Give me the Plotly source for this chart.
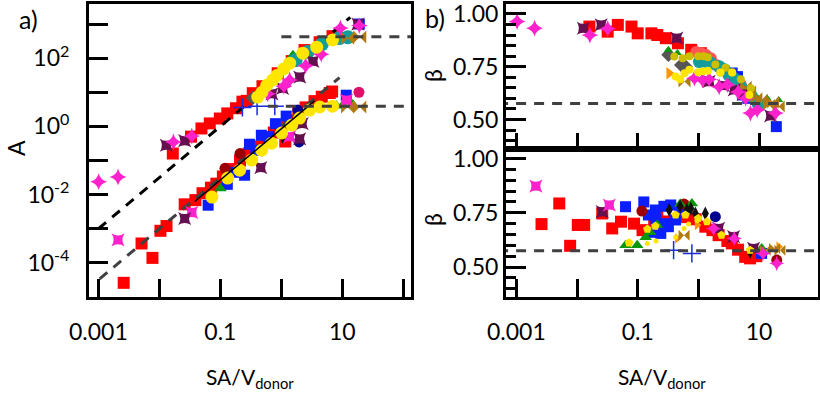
import numpy as np
import plotly.graph_objects as go

# ---------------- panel a: A vs SA/V_donor (log-log) ----------------
red_sa_a = [0.0026, 0.0051, 0.0077, 0.0104, 0.0131, 0.026, 0.039, 0.051, 0.070, 0.086,
            0.11, 0.15, 0.21, 0.29, 0.40, 0.55, 0.75, 1.0, 1.16, 1.4, 1.9, 2.5, 3.5, 4.6, 6.2, 6.8,
            0.0166, 0.033, 0.049, 0.067, 0.098, 0.13, 0.18, 0.23, 0.27, 0.34, 0.49, 0.87, 1.48,
            2.4, 4.25, 6.9]
red_A = [2.6e-5, 3.7e-4, 1.4e-4, 8.7e-4, 1.2e-3, 5.2e-3, 6.9e-3, 0.011, 0.016, 0.021,
         0.034, 0.056, 0.10, 0.16, 0.26, 0.45, 0.66, 0.95, 0.36, 1.5, 2.4, 3.6, 5.5, 7.4, 9.5, 10.5,
         0.16, 0.50, 0.87, 1.22, 1.7, 2.4, 3.4, 5.3, 5.6, 9.4, 15, 36, 82,
         172, 293, 440]

blue_sa_a = [0.063, 0.13, 0.18, 0.25, 0.30, 0.38, 0.47, 0.62, 0.8, 1.2, 11.6, 19]
blue_A = [4.9e-3, 0.02, 0.045, 0.037, 0.3, 0.2, 0.55, 0.5, 1.2, 2.0, 8.2, 1000]

cross_sa_a = [0.23, 0.40, 0.78]
cross_A = [3.6, 3.9, 3.9]

darkred_sa_a = [0.119, 0.21]
darkred_A = [0.059, 0.16]

pink_sa_a = [18.7]
pink_A = [10]

navy_sa_a = [1.95, 1.86]
navy_A = [0.35, 3.0]

black_sa_a = [0.34, 1.05]
black_A = [0.115, 0.5]

gray_sa_a = [0.34]
gray_A = [6.8]

green_sa_a = [0.10, 8.0, 10.2, 14.8, 1.55]
green_A = [0.015, 4.0, 4.2, 4.4, 122]

teal_sa_a = [1.72, 2.7, 4.6, 9.0, 12.3]
teal_A = [88, 150, 256, 390, 410]

magenta_sa_a = [0.00101, 0.0021, 0.017, 0.034, 0.6, 1.1, 1.37, 2.5, 4.5, 9.3, 19]
magenta_A = [0.024, 0.033, 0.35, 0.52, 9, 15, 23, 60, 130, 760, 900]

magx_sa_a = [0.0021, 0.034, 1.37, 11.7]
magx_A = [4.7e-4, 3.0e-3, 0.5, 5.9]

purple_sa_a = [0.013, 0.026, 0.026, 0.46, 2.0, 2.2, 0.7, 1.05, 2.0, 3.3, 18]
purple_A = [0.28, 0.38, 2.0e-3, 0.062, 0.43, 1.2, 9, 13, 28, 80, 1000]

brown_sa_a = [12.2, 19.3, 12.2, 19.3]
brown_A = [385, 415, 3.7, 3.7]

yellow_sa_a = [0.0726, 0.132, 0.207, 0.326, 0.475, 0.69, 1.01, 1.48, 2.0, 2.9, 4.25, 6.9,
               0.41, 0.48, 0.575, 0.72, 0.84, 1.09, 1.37, 2.24, 3.8, 6.9]
yellow_A = [8.5e-3, 0.0305, 0.052, 0.103, 0.20, 0.32, 0.64, 1.09, 1.75, 3.0, 3.7, 3.9,
            7.2, 10, 16, 23, 31, 48, 71, 140, 210, 340]

# scaling lines A = k * (SA/V)^1.5 and plateaus
slope = 1.5
upper_fit_sa = [0.001, 13.5]
upper_fit_k = 31.6
lower_fit_sa = [0.00105, 9.0]
lower_fit_k = 1.0
solid_fit_sa = [0.038, 3.5]
solid_fit_k = 0.85
plateau_up_sa = [1.0, 140]
plateau_up_A = 420
plateau_lo_sa = [0.6, 140]
plateau_lo_A = 3.9

# ---------------- panel b (top): beta vs SA/V_donor ----------------
red_sa_bt = [0.016, 0.032, 0.047, 0.079, 0.10, 0.168, 0.21, 0.29, 0.46, 0.76, 1.1]
red_beta_t = [0.94, 0.916, 0.948, 0.94, 0.908, 0.908, 0.90, 0.885, 0.861, 0.83, 0.814]

salmon_sa_bt = [0.92, 1.1, 1.33, 1.6, 1.96, 3.0, 5.0]
salmon_beta_t = [0.82, 0.815, 0.806, 0.79, 0.758, 0.72, 0.664]

gray_sa_bt = [0.32, 0.52, 0.62]
gray_beta_t = [0.806, 0.758, 0.75]

green_sa_bt = [0.32, 0.45, 1.5, 9.5, 13.5, 21]
green_beta_t = [0.83, 0.815, 0.798, 0.60, 0.60, 0.592]

blue_sa_bt = [3.6, 4.4, 5.3, 6.5, 19.2]
blue_beta_t = [0.72, 0.703, 0.616, 0.60, 0.466]

teal_sa_bt = [1.04, 1.3, 1.6, 2.2, 2.7, 3.2, 4.0, 5.0, 7.5, 9.7]
teal_beta_t = [0.774, 0.775, 0.766, 0.75, 0.735, 0.71, 0.69, 0.653, 0.61, 0.572]

olive_sa_bt = [0.40, 0.55, 0.71, 0.99, 1.2, 1.43, 1.9, 2.3, 2.8, 3.6, 5.0, 7.3]
olive_beta_t = [0.798, 0.79, 0.80, 0.80, 0.80, 0.795, 0.76, 0.722, 0.745, 0.722, 0.69, 0.648]

orange_sa_bt = [0.33]
orange_beta_t = [0.719]

brown_sa_bt = [0.59, 6.0, 7.1, 9.0, 11, 14.5, 17, 21]
brown_beta_t = [0.68, 0.655, 0.632, 0.60, 0.593, 0.569, 0.58, 0.561]

magenta_sa_bt = [0.00103, 0.0020, 0.0163, 0.032, 0.86, 1.17, 1.5, 2.2, 3.0, 4.5, 6.0, 7.2, 9.3,
                 18.6]
magenta_beta_t = [0.964, 0.932, 0.90, 0.93, 0.695, 0.687, 0.69, 0.655, 0.665, 0.63, 0.60, 0.53,
                  0.545, 0.53]

purple_sa_bt = [0.0127, 0.025, 0.44, 1.5, 2.6, 3.9, 5.5, 15.5]
purple_beta_t = [0.932, 0.948, 0.885, 0.68, 0.66, 0.64, 0.62, 0.517]

yellow_sa_bt = [0.42, 0.5, 0.59, 0.71, 0.99, 1.2, 1.43, 2.3, 3.6, 6.9]
yellow_beta_t = [0.703, 0.69, 0.719, 0.735, 0.724, 0.728, 0.731, 0.722, 0.722, 0.616]

# ---------------- panel b (bottom): beta vs SA/V_donor ----------------
red_sa_bb = [0.0051, 0.0026, 0.0077, 0.0103, 0.0131, 0.026, 0.038, 0.053, 0.087, 0.12,
             0.187, 0.21, 0.3, 0.6, 0.9, 1.3, 1.7, 2.15, 3.0, 3.55, 4.5, 5.9, 7.1, 9.0]
red_beta_b = [0.793, 0.698, 0.598, 0.694, 0.694, 0.747, 0.678, 0.709, 0.70, 0.67,
              0.709, 0.74, 0.71, 0.73, 0.72, 0.686, 0.67, 0.647, 0.62, 0.609, 0.58, 0.547, 0.54,
              0.55]

blue_sa_bb = [0.063, 0.126, 0.15, 0.18, 0.195, 0.2, 0.27, 0.28, 0.35, 0.24, 0.32, 0.42, 0.5, 11]
blue_beta_b = [0.778, 0.80, 0.74, 0.66, 0.763, 0.72, 0.78, 0.70, 0.786, 0.655, 0.686, 0.717,
               0.77, 0.563]

cross_sa_bb = [0.39, 0.78]
cross_beta_b = [0.578, 0.563]

darkred_sa_bb = [0.117, 0.58, 19.5]
darkred_beta_b = [0.758, 0.79, 0.532]

navy_sa_bb = [1.9]
navy_beta_b = [0.732]

green_sa_bb = [0.063, 0.098, 0.135, 0.16, 0.21, 0.5, 0.78, 11]
green_beta_b = [0.601, 0.601, 0.637, 0.66, 0.694, 0.79, 0.793, 0.586]

black_sa_bb = [0.33, 0.5, 0.65, 0.75, 0.89, 1.3, 7.1]
black_beta_b = [0.763, 0.78, 0.763, 0.77, 0.747, 0.747, 0.57]

orange_sa_bb = [0.45, 0.95, 21]
orange_beta_b = [0.632, 0.694, 0.594]

brown_sa_bb = [0.58, 12.6, 18, 22]
brown_beta_b = [0.647, 0.578, 0.586, 0.578]

magenta_sa_bb = [1.78, 3.9, 11.6, 19.5]
magenta_beta_b = [0.678, 0.632, 0.563, 0.517]

magx_sa_bb = [0.0021, 0.034]
magx_beta_b = [0.873, 0.786]

purple_sa_bb = [0.026, 2.15, 3.8, 8.1]
purple_beta_b = [0.755, 0.678, 0.64, 0.586]

pent_sa_bb = [0.072, 0.144, 0.195, 0.42, 0.61, 0.99, 1.38, 2.4, 7.1]
pent_beta_b = [0.612, 0.675, 0.689, 0.74, 0.74, 0.724, 0.709, 0.647, 0.578]

dot_sa_bb = [0.144, 0.2, 0.42, 0.58, 0.69, 0.95]
dot_beta_b = [0.609, 0.62, 0.637, 0.678, 0.698, 0.713]

beta_ref = 0.575
beta_ref_sa = [10 ** -3.3, 10 ** 2.2]

# ---------------- marker styles ----------------
STY = {
    "red": dict(symbol="square", color="#FF0000"),
    "blue": dict(symbol="square", color="#0A1EFF"),
    "darkred": dict(symbol="circle", color="#9A0000"),
    "pink": dict(symbol="circle", color="#E0106A"),
    "navy": dict(symbol="circle", color="#000090"),
    "black": dict(symbol="diamond-tall", color="#111111"),
    "gray": dict(symbol="diamond", color="#555555"),
    "green": dict(symbol="triangle-up", color="#0A960A"),
    "teal": dict(symbol="circle", color="#139C9C"),
    "salmon": dict(symbol="circle", color="#FF5555"),
    "olive": dict(symbol="circle", color="#CDBE00"),
    "orange": dict(symbol="triangle-right", color="#FF9500"),
    "brown": dict(symbol="bowtie", color="#B07A10"),
    "magenta": dict(symbol="star-diamond", color="#FF22CC"),
    "magx": dict(symbol="star-square", color="#FF22CC"),
    "purple": dict(symbol="star-square", color="#640F50"),
    "yellow": dict(symbol="circle", color="#FFE600"),
    "pent": dict(symbol="pentagon", color="#FFE000"),
}

fig = go.Figure()


def add(sa, vals, key, size, xa, ya):
    st = STY[key]
    fig.add_trace(go.Scatter(
        x=sa, y=vals, mode="markers", xaxis=xa, yaxis=ya, showlegend=False,
        marker=dict(symbol=st["symbol"], color=st["color"], size=size,
                    line=dict(width=0))))


def add_cross(sa, vals, xa, ya):
    fig.add_trace(go.Scatter(
        x=sa, y=vals, mode="markers", xaxis=xa, yaxis=ya, showlegend=False,
        marker=dict(symbol="cross-thin-open", size=13, color="#1A2BE0",
                    line=dict(color="#1A2BE0", width=1.5))))


def add_line(sa, vals, color, dash, width, xa, ya):
    fig.add_trace(go.Scatter(
        x=sa, y=vals, mode="lines", xaxis=xa, yaxis=ya, showlegend=False,
        line=dict(color=color, dash=dash, width=width)))


# panel a: red squares, then the two x^1.5 guides, then the other series on top
add(red_sa_a, red_A, "red", 12, "x", "y")
sa = np.array(upper_fit_sa)
add_line(sa, upper_fit_k * sa ** slope, "#000000", "10px,8px", 3, "x", "y")
sa = np.array(lower_fit_sa)
add_line(sa, lower_fit_k * sa ** slope, "#404040", "10px,8px", 3, "x", "y")

add(blue_sa_a, blue_A, "blue", 11, "x", "y")
add_cross(cross_sa_a, cross_A, "x", "y")
add(darkred_sa_a, darkred_A, "darkred", 11, "x", "y")
add(navy_sa_a, navy_A, "navy", 11, "x", "y")
add(black_sa_a, black_A, "black", 10, "x", "y")
add(gray_sa_a, gray_A, "gray", 11, "x", "y")
add(green_sa_a, green_A, "green", 11, "x", "y")
add(teal_sa_a, teal_A, "teal", 14, "x", "y")
add(brown_sa_a, brown_A, "brown", 13, "x", "y")
add(magx_sa_a, magx_A, "magx", 12, "x", "y")
add(purple_sa_a, purple_A, "purple", 12, "x", "y")
add(magenta_sa_a, magenta_A, "magenta", 12, "x", "y")
add(pink_sa_a, pink_A, "pink", 11, "x", "y")
add(yellow_sa_a, yellow_A, "yellow", 13, "x", "y")

# fit line through the lower branch and the two plateaus
sa = np.array(solid_fit_sa)
add_line(sa, solid_fit_k * sa ** slope, "#000000", "solid", 1.5, "x", "y")
add_line(plateau_up_sa, [plateau_up_A] * 2, "#404040", "10px,8px", 3, "x", "y")
add_line(plateau_lo_sa, [plateau_lo_A] * 2, "#404040", "10px,8px", 3, "x", "y")

# panel b top markers
add(red_sa_bt, red_beta_t, "red", 12, "x2", "y2")
add(salmon_sa_bt, salmon_beta_t, "salmon", 12, "x2", "y2")
add(gray_sa_bt, gray_beta_t, "gray", 11, "x2", "y2")
add(green_sa_bt, green_beta_t, "green", 8, "x2", "y2")
add(blue_sa_bt, blue_beta_t, "blue", 11, "x2", "y2")
add(teal_sa_bt, teal_beta_t, "teal", 13, "x2", "y2")
add(orange_sa_bt, orange_beta_t, "orange", 11, "x2", "y2")
add(brown_sa_bt, brown_beta_t, "brown", 12, "x2", "y2")
add(purple_sa_bt, purple_beta_t, "purple", 12, "x2", "y2")
add(magenta_sa_bt, magenta_beta_t, "magenta", 12, "x2", "y2")
add(olive_sa_bt, olive_beta_t, "olive", 8, "x2", "y2")
add(yellow_sa_bt, yellow_beta_t, "yellow", 8, "x2", "y2")
add_line(beta_ref_sa, [beta_ref] * 2, "#404040", "10px,8px", 3, "x2", "y2")

# panel b bottom markers
add(red_sa_bb, red_beta_b, "red", 12, "x3", "y3")
add(blue_sa_bb, blue_beta_b, "blue", 11, "x3", "y3")
add_cross(cross_sa_bb, cross_beta_b, "x3", "y3")
add(darkred_sa_bb, darkred_beta_b, "darkred", 11, "x3", "y3")
add(navy_sa_bb, navy_beta_b, "navy", 11, "x3", "y3")
add(green_sa_bb, green_beta_b, "green", 11, "x3", "y3")
add(black_sa_bb, black_beta_b, "black", 10, "x3", "y3")
add(orange_sa_bb, orange_beta_b, "orange", 9, "x3", "y3")
add(brown_sa_bb, brown_beta_b, "brown", 11, "x3", "y3")
add(purple_sa_bb, purple_beta_b, "purple", 12, "x3", "y3")
add(magx_sa_bb, magx_beta_b, "magx", 12, "x3", "y3")
add(magenta_sa_bb, magenta_beta_b, "magenta", 11, "x3", "y3")
add(pent_sa_bb, pent_beta_b, "pent", 9, "x3", "y3")
add(dot_sa_bb, dot_beta_b, "yellow", 5, "x3", "y3")
add_line(beta_ref_sa, [beta_ref] * 2, "#404040", "10px,8px", 3, "x3", "y3")

W, H = 820, 394
FONT = "Lato, 'Open Sans', sans-serif"
TICK_SIZE = 23


def px(v):
    return v / W


def py(v):
    return 1 - v / H


axis_common = dict(showline=True, linewidth=3, linecolor="black", mirror=True,
                   ticks="inside", tickwidth=3, tickcolor="black", showgrid=False,
                   zeroline=False, automargin=False, ticklabeloverflow="allow",
                   tickfont=dict(family=FONT, size=TICK_SIZE, color="black"))

dec_vals = [10.0 ** k for k in range(-3, 3)]
dec_text = ["0.001", "", "0.1", "", "10", ""]

A_vals = [10.0 ** k for k in range(-4, 4)]
A_text = ["10<sup>-4</sup>", "", "10<sup>-2</sup>", "", "10<sup>0</sup>", "",
          "10<sup>2</sup>", ""]

beta_vals = [0.5, 0.75, 1.0]
beta_text = ["0.50", "0.75", "1.00"]

minor_b = dict(tickvals=[0.4, 0.45, 0.55, 0.6, 0.65, 0.7, 0.8, 0.85, 0.9, 0.95],
               ticks="inside", ticklen=10, tickwidth=3, tickcolor="black")

fig.update_layout(
    width=W, height=H, margin=dict(l=0, r=0, t=0, b=0, autoexpand=False),
    paper_bgcolor="white", plot_bgcolor="white",
    xaxis=dict(axis_common, type="log", domain=[px(89), px(411)], range=[-3.154, 2.126],
               anchor="y", tickvals=dec_vals, ticktext=dec_text, ticklen=18,
               ticklabelstandoff=12),
    yaxis=dict(axis_common, type="log", domain=[py(297), py(4)], range=[-5, 3.586],
               anchor="x", tickvals=A_vals, ticktext=A_text, ticklen=19,
               ticklabelstandoff=12),
    xaxis2=dict(axis_common, type="log", domain=[px(506), px(818)], range=[-3.17, 1.97],
                anchor="y2", tickvals=dec_vals, showticklabels=False, ticklen=16),
    yaxis2=dict(axis_common, domain=[py(149), py(4)], range=[0.36, 1.047], anchor="x2",
                tickvals=beta_vals, ticktext=beta_text, ticklen=20, minor=minor_b),
    xaxis3=dict(axis_common, type="log", domain=[px(506), px(818)], range=[-3.17, 1.97],
                anchor="y3", tickvals=dec_vals, ticktext=dec_text, ticklen=18,
                ticklabelstandoff=12),
    yaxis3=dict(axis_common, domain=[py(297), py(149)], range=[0.362, 1.044], anchor="x3",
                tickvals=beta_vals, ticktext=beta_text, ticklen=20, minor=minor_b),
)


def label(text, x, y, angle=0, size=24):
    fig.add_annotation(text=text, x=px(x), y=py(y), xref="paper", yref="paper",
                       xanchor="center", yanchor="middle", showarrow=False,
                       textangle=angle, font=dict(family=FONT, size=size, color="black"))


label("a)", 29, 19, 0, 25)
label("b)", 435, 18, 0, 25)
label("A", 16, 148, -90, 23)
label("β", 433, 76, -90, 23)
label("β", 433, 220, -90, 23)
label("SA/V<sub>donor</sub>", 250, 378, 0, 21)
label("SA/V<sub>donor</sub>", 662, 378, 0, 21)

fig.write_html("out.html")
